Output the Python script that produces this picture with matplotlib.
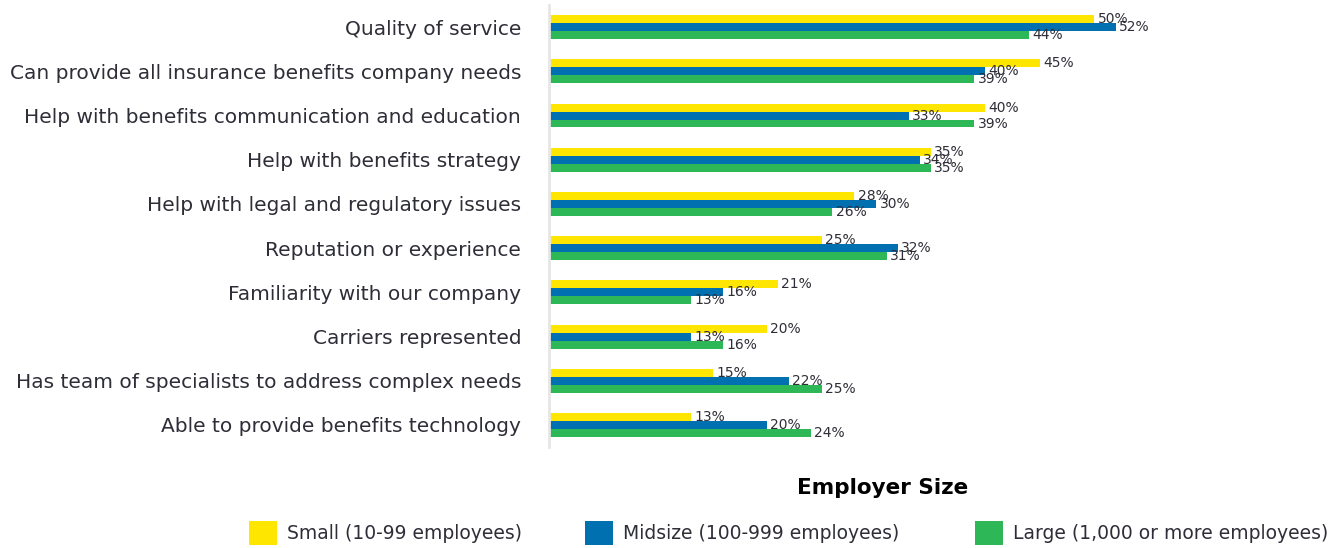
import matplotlib
matplotlib.use("Agg")
import matplotlib.pyplot as plt
from matplotlib.patches import Patch
import numpy as np

categories = [
    "Quality of service",
    "Can provide all insurance benefits company needs",
    "Help with benefits communication and education",
    "Help with benefits strategy",
    "Help with legal and regulatory issues",
    "Reputation or experience",
    "Familiarity with our company",
    "Carriers represented",
    "Has team of specialists to address complex needs",
    "Able to provide benefits technology",
]
small = [50, 45, 40, 35, 28, 25, 21, 20, 15, 13]
midsize = [52, 40, 33, 34, 30, 32, 16, 13, 22, 20]
large = [44, 39, 39, 35, 26, 31, 13, 16, 25, 24]
series_names = ["Small (10-99 employees)", "Midsize (100-999 employees)",
                "Large (1,000 or more employees)"]
colors = ["#FFE600", "#0070B0", "#2DB757"]
text_color = "#2E2E38"

W, H = 1337, 548
fig = plt.figure(figsize=(W / 100, H / 100), dpi=100)
ax = fig.add_axes([549 / W, 1 - 447 / H, (W - 549) / W, 442 / H])

y = np.arange(len(categories))
bh = 8 / 44.2
for k, (vals, col) in enumerate(zip([small, midsize, large], colors)):
    pos = y + (k - 1) * bh
    ax.barh(pos, vals, height=bh, color=col, edgecolor="none")
    for p, v in zip(pos, vals):
        ax.annotate(f"{v}%", xy=(v, p), xytext=(2.5, 0), textcoords="offset points",
                    va="center", ha="left", fontsize=10, color=text_color)

ax.set_ylim(len(categories) - 0.5, -0.5)
ax.set_xlim(0, 788 / 10.9)
ax.set_yticks(y)
ax.set_yticklabels(categories, fontsize=14.5, color=text_color)
ax.tick_params(axis="y", length=0, pad=20)
ax.set_xticks([])
for s in ["top", "right", "bottom"]:
    ax.spines[s].set_visible(False)
ax.spines["left"].set_color("#E6E6E6")
ax.spines["left"].set_linewidth(2)

fig.text(883 / W, 1 - 488 / H, "Employer Size", ha="center", va="center",
         fontsize=15.5, fontweight="bold", color="black")

legend_x = [249, 585, 975]
for name, col, lx in zip(series_names, colors, legend_x):
    leg = fig.legend(handles=[Patch(facecolor=col, edgecolor="none", label=name)],
                     loc="center left", bbox_to_anchor=(lx / W, 1 - 533 / H),
                     frameon=False, fontsize=13.5, handlelength=1.5, handleheight=1.6,
                     handletextpad=0.55, borderpad=0, borderaxespad=0)
    for t in leg.get_texts():
        t.set_color(text_color)

fig.savefig("out.png", dpi=100)
